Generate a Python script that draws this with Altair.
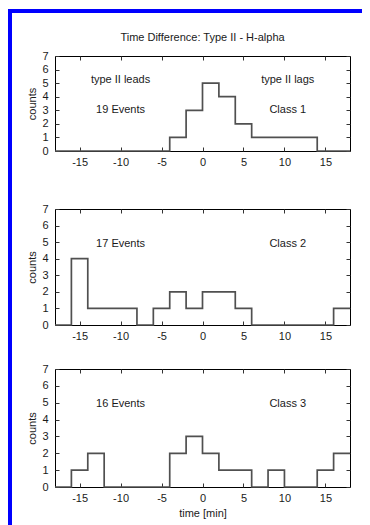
import altair as alt
import pandas as pd

# ---- data ----
bin_left = [-18, -16, -14, -12, -10, -8, -6, -4, -2, 0, 2, 4, 6, 8, 10, 12, 14, 16]
x_max = 18
class1 = [0, 0, 0, 0, 0, 0, 0, 1, 3, 5, 4, 2, 1, 1, 1, 1, 0, 0]
class2 = [0, 4, 1, 1, 1, 0, 1, 2, 1, 2, 2, 1, 0, 0, 0, 0, 0, 1]
class3 = [0, 1, 2, 0, 0, 0, 0, 2, 3, 2, 1, 1, 0, 1, 0, 0, 1, 2]
x_ticks = [-15, -10, -5, 0, 5, 10, 15]
y_ticks = [0, 1, 2, 3, 4, 5, 6, 7]

p1_left_text = ["type II leads", "19 Events"]
p1_left_y = [5.2, 3.0]
p1_right_text = ["type II lags", "Class 1"]
p1_right_y = [5.2, 3.0]
p2_left_text = ["17 Events"]
p2_right_text = ["Class 2"]
p3_left_text = ["16 Events"]
p3_right_text = ["Class 3"]
label_y_low = [4.9]
left_x = -10
right_x = 10.4

title_text = "Time Difference: Type II - H-alpha"

FONT = "Liberation Sans"
TXT = "#1a1a1a"
LINE = "#505050"
TICK = "#333333"
BLUE = "#0000ff"
W = 295


def step_df(counts):
    return pd.DataFrame({"time": bin_left + [x_max], "counts": counts + [counts[-1]]})


def text_df(texts, ys, x):
    return pd.DataFrame({"label": texts, "tx": [x] * len(texts), "ty": ys})


def panel(counts, ltxt, ly, rtxt, ry, H, xtitle=None, title=None):
    xs = alt.Scale(domain=[-18, 18], nice=False, zero=False)
    ys = alt.Scale(domain=[0, 7], nice=False, zero=True)

    xkw = dict(orient="bottom", values=x_ticks, ticks=False, tickSize=0, domain=False,
               grid=False, labelPadding=5, labelFontSize=11, labelFont=FONT,
               labelColor=TXT, labelExpr="'' + datum.value", labelFlush=False,
               titleFont=FONT, titleFontSize=11, titleFontWeight="normal",
               titleColor=TXT, titlePadding=4)
    xkw["title"] = xtitle
    line = alt.Chart(step_df(counts)).mark_line(
        interpolate="step-after", color=LINE, strokeWidth=1.7, clip=False
    ).encode(
        x=alt.X("time:Q", scale=xs, axis=alt.Axis(**xkw)),
        y=alt.Y("counts:Q", scale=ys, axis=alt.Axis(
            orient="left", values=y_ticks, ticks=False, tickSize=0, domain=False, grid=False,
            labelPadding=7, labelFontSize=11, labelFont=FONT, labelColor=TXT,
            title="counts", titleFont=FONT, titleFontSize=11, titleFontWeight="normal",
            titleColor=TXT, titlePadding=4)),
    )

    tick_common = dict(labels=False, domain=False, grid=False, ticks=True, tickSize=4,
                       tickColor=TICK, tickWidth=1, title=None)

    tl = alt.Chart(text_df(ltxt, ly, left_x)).mark_text(
        font=FONT, fontSize=11, color=TXT, align="center", baseline="middle"
    ).encode(
        x=alt.X("tx:Q", scale=xs, axis=alt.Axis(orient="top", offset=-H, values=x_ticks, **tick_common)),
        y=alt.Y("ty:Q", scale=ys, axis=alt.Axis(orient="right", offset=-W, values=y_ticks, **tick_common)),
        text="label:N",
    )
    tr = alt.Chart(text_df(rtxt, ry, right_x)).mark_text(
        font=FONT, fontSize=11, color=TXT, align="center", baseline="middle"
    ).encode(
        x=alt.X("tx:Q", scale=xs, axis=alt.Axis(orient="bottom", offset=-H, values=x_ticks, **tick_common)),
        y=alt.Y("ty:Q", scale=ys, axis=alt.Axis(orient="left", offset=-W, values=y_ticks, **tick_common)),
        text="label:N",
    )
    props = dict(width=W, height=H)
    if title is not None:
        props["title"] = alt.TitleParams(title, font=FONT, fontSize=11, fontWeight="normal",
                                         color=TXT, offset=7, anchor="middle")
    return alt.layer(line, tl, tr).properties(**props)


def block(w, h, fill):
    # decorative page-frame block, exactly the size of its own view
    return alt.Chart(pd.DataFrame({"v": [0]})).mark_rect(
        fill=fill, strokeWidth=0
    ).encode(
        x=alt.value(0), x2=alt.value(w), y=alt.value(0), y2=alt.value(h)
    ).properties(width=w, height=h, view=alt.ViewBackground(stroke="transparent", strokeWidth=0))


p1 = panel(class1, p1_left_text, p1_left_y, p1_right_text, p1_right_y, 95, title=title_text)
p2 = panel(class2, p2_left_text, label_y_low, p2_right_text, label_y_low, 116)
p3 = panel(class3, p3_left_text, label_y_low, p3_right_text, label_y_low, 118, xtitle="time [min]")

spacer = block(1, 18, "transparent")
content = alt.vconcat(
    alt.vconcat(spacer, p1, spacing=0),
    alt.vconcat(p2, p3, spacing=20),
    spacing=34,
)

left_strip = block(4, 512, BLUE)
top_strip = block(354, 4, BLUE)

chart = alt.vconcat(
    top_strip,
    alt.hconcat(left_strip, content, spacing=14),
    spacing=0,
).properties(
    padding={"left": 0, "top": 1, "right": 0, "bottom": 0},
    background="#ffffff",
).configure_view(stroke="#000000", strokeWidth=1)

chart.save("out.html", embed_options={"renderer": "svg", "actions": False})
